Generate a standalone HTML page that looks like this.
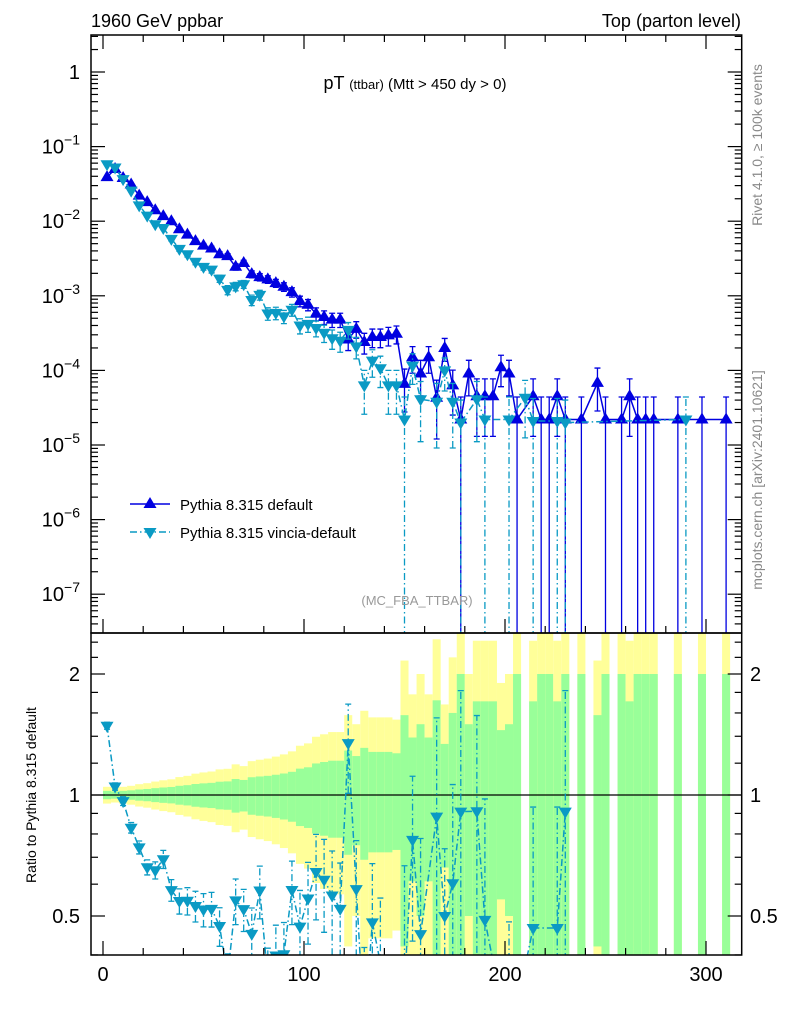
<!DOCTYPE html>
<html><head><meta charset="utf-8"><style>
html,body{margin:0;padding:0;background:#fff;width:786px;height:1024px;overflow:hidden}
svg{display:block;font-family:"Liberation Sans",sans-serif}
</style></head><body>
<svg id="chart" width="786" height="1024" viewBox="0 0 786 1024" xmlns="http://www.w3.org/2000/svg">
<defs>
<clipPath id="cpMain"><rect x="91" y="35" width="651" height="598"/></clipPath>
<clipPath id="cpRatio"><rect x="91" y="633" width="651" height="322"/></clipPath>
</defs>
<rect width="786" height="1024" fill="#fff"/>
<g id="bands" clip-path="url(#cpRatio)"></g>
<g id="marksMain" clip-path="url(#cpMain)"></g>
<g id="marksRatio" clip-path="url(#cpRatio)"></g>
<g id="axes"></g>
<text x="91" y="27" font-size="18">1960 GeV ppbar</text>
<text x="741" y="27" font-size="18" text-anchor="end">Top (parton level)</text>
<text x="415" y="89" text-anchor="middle"><tspan font-size="18">pT </tspan><tspan font-size="13">(ttbar)</tspan><tspan font-size="15"> (Mtt &gt; 450 dy &gt; 0)</tspan></text>
<text x="417" y="605" font-size="13" fill="#999" text-anchor="middle">(MC_FBA_TTBAR)</text>
<text transform="translate(762,145) rotate(-90)" font-size="14" fill="#888" text-anchor="middle">Rivet 4.1.0, ≥ 100k events</text>
<text transform="translate(762,480) rotate(-90)" font-size="14" fill="#888" text-anchor="middle">mcplots.cern.ch [arXiv:2401.10621]</text>
<text transform="translate(36,795) rotate(-90)" font-size="14" text-anchor="middle">Ratio to Pythia 8.315 default</text>
<g>
<g>
<line x1="130" y1="504" x2="170" y2="504" stroke="#0000e0" stroke-width="1.5"/>
<polygon points="150,497 156.5,508 143.5,508" fill="#0000e0"/>
<text x="180" y="510" font-size="15">Pythia 8.315 default</text>
</g>
<g>
<line x1="130" y1="532" x2="170" y2="532" stroke="#0a9ac4" stroke-width="1.5" stroke-dasharray="7,3,1.5,3"/>
<polygon points="150,539 156.5,528 143.5,528" fill="#0a9ac4"/>
<text x="180" y="538" font-size="15">Pythia 8.315 vincia-default</text>
</g>
</g>
</svg>
<script>
const binCenters = [2,6,10,14,18,22,26,30,34,38,42,46,50,54,58,62,66,70,74,78,82,86,90,94,98,102,106,110,114,118,122,126,130,134,138,142,146,150,154,158,162,166,170,174,178,182,186,190,194,198,202,206,210,214,218,222,226,230,234,238,242,246,250,254,258,262,266,270,274,278,282,286,290,294,298,302,306,310];
const binHalfWidth = 2;
const defaultValues = [3.9e-2,5.0e-2,3.8e-2,3.1e-2,2.2e-2,1.8e-2,1.4e-2,1.17e-2,1.0e-2,7.8e-3,6.6e-3,5.4e-3,4.7e-3,4.3e-3,3.6e-3,3.4e-3,2.45e-3,2.75e-3,1.95e-3,1.78e-3,1.66e-3,1.48e-3,1.32e-3,1.12e-3,8.5e-4,7.6e-4,5.75e-4,5.2e-4,4.8e-4,4.8e-4,2.6e-4,3.6e-4,2.4e-4,2.8e-4,2.8e-4,2.95e-4,3.1e-4,6.6e-5,1.5e-4,9.1e-5,1.5e-4,4.3e-5,2.0e-4,6.3e-5,2.2e-5,9.1e-5,4.5e-5,4.5e-5,4.5e-5,1.1e-4,9.1e-5,2.2e-5,0,4.5e-5,2.2e-5,2.2e-5,4.5e-5,2.2e-5,0,2.2e-5,0,6.8e-5,2.2e-5,0,2.2e-5,4.5e-5,2.2e-5,2.2e-5,2.2e-5,0,0,2.2e-5,0,0,2.2e-5,0,0,2.2e-5];
const defaultRelErr = [.024,.021,.024,.027,.032,.035,.040,.044,.047,.054,.058,.065,.069,.072,.079,.081,.096,.090,.107,.112,.116,.123,.131,.142,.163,.172,.198,.208,.217,.217,.29,.25,.31,.28,.28,.28,.27,.58,.39,.50,.39,.72,.34,.60,1,.50,.71,.71,.71,.45,.50,1,0,.71,1,1,.71,1,0,1,0,.58,1,0,1,.71,1,1,1,0,0,1,0,0,1,0,0,1];
const vinciaValues = [5.8e-2,5.25e-2,3.67e-2,2.57e-2,1.63e-2,1.19e-2,9.1e-3,8.1e-3,5.8e-3,4.25e-3,3.6e-3,2.86e-3,2.44e-3,2.24e-3,1.7e-3,1.2e-3,1.34e-3,1.43e-3,8.8e-4,1.03e-3,5.8e-4,5.9e-4,5.3e-4,6.5e-4,4.0e-4,4.2e-4,3.7e-4,3.2e-4,2.7e-4,2.5e-4,3.5e-4,2.1e-4,6.3e-5,1.35e-4,1.07e-4,6.3e-5,6.3e-5,2.2e-5,1.16e-4,4.1e-5,0,3.8e-5,1.0e-4,3.8e-5,2.0e-5,0,4.1e-5,2.2e-5,0,0,2.2e-5,0,4.3e-5,2.1e-5,0,0,2.1e-5,2.0e-5,0,0,0,0,0,0,0,0,0,0,0,0,0,0,2.2e-5,0,0,0,0,0];
const vinciaRelErr = [.020,.021,.025,.030,.037,.043,.049,.052,.062,.072,.078,.088,.095,.099,.11,.14,.13,.12,.16,.15,.19,.19,.20,.18,.23,.23,.24,.26,.29,.30,.25,.32,.59,.40,.45,.59,.59,1,.44,.73,0,.76,.47,.76,1,0,.73,1,0,0,1,0,.71,1,0,0,1,1,0,0,0,0,0,0,0,0,0,0,0,0,0,0,1,0,0,0,0,0];
const mainYTickExps = [0,-1,-2,-3,-4,-5,-6,-7];
const xTickLabels = [0,100,200,300];
const ratioTickLabels = [0.5,1,2];

const NS="http://www.w3.org/2000/svg";
const L=91,R=741.7,MT=35,MB=633,RT=633,RB=955;
function xs(g){return 103+2.01*g;}
function ym(v){return 72-74.6*Math.log10(v);}
function yr(r){return 795-121*Math.log2(r);}
function mk(tag,attrs,parent){const e=document.createElementNS(NS,tag);for(const k in attrs)e.setAttribute(k,attrs[k]);parent.appendChild(e);return e;}
const BLUE="#0000e0",CYAN="#0a9ac4";
const gB=document.getElementById('bands'),gM=document.getElementById('marksMain'),gR=document.getElementById('marksRatio'),gA=document.getElementById('axes');

binCenters.forEach((c,i)=>{
  const v=defaultValues[i],e=defaultRelErr[i];if(!(v>0))return;
  const x0=xs(c-binHalfWidth),x1=xs(c+binHalfWidth);
  const ylo=(1-2*e)>0?yr(1-2*e):RB+5, yhi=yr(1+2*e);
  const y=mk('rect',{x:x0,y:yhi,width:x1-x0,height:ylo-yhi,fill:"#ffff99"},gB);
  
  
  const glo=(1-e)>0?yr(1-e):RB+5, ghi=yr(1+e);
  const g=mk('rect',{x:x0,y:ghi,width:x1-x0,height:glo-ghi,fill:"#99ff99"},gB);
  
  
});
const ref=mk('line',{x1:L,x2:R,y1:yr(1),y2:yr(1),stroke:"#000","stroke-width":1.2},gB);



function tri(p,x,y,up,col){
  const s=6.5;
  const pts=up?`${x},${y-7} ${x+s},${y+4} ${x-s},${y+4}`:`${x},${y+7} ${x+s},${y-4} ${x-s},${y-4}`;
  return mk('polygon',{points:pts,fill:col},p);
}
function series(parent,vals,errs,yfn,bottom,col,up,dash,name){
  const pts=[];
  vals.forEach((v,i)=>{if(v>0)pts.push([xs(binCenters[i]),yfn(v),v,errs[i]*v]);});
  const line=mk('polyline',{points:pts.map(p=>p[0]+','+p[1]).join(' '),fill:"none",stroke:col,"stroke-width":1.5},parent);
  if(dash)line.setAttribute('stroke-dasharray',dash);
  
  
  pts.forEach(p=>{
    const hi=yfn(p[2]+p[3]), lo=(p[2]-p[3])>0?yfn(p[2]-p[3]):bottom+5;
    const eb=mk('path',{d:`M${p[0]},${lo}V${hi}M${p[0]-3},${hi}H${p[0]+3}M${p[0]-3},${lo}H${p[0]+3}`,stroke:col,"stroke-width":1.3,fill:"none"},parent);
    if(dash)eb.setAttribute('stroke-dasharray',dash);
    
    
    const m=tri(parent,p[0],p[1],up,col);
    
    
  });
}
series(gM,defaultValues,defaultRelErr,ym,MB,BLUE,true,null,'default');
series(gM,vinciaValues,vinciaRelErr,ym,MB,CYAN,false,"7,3,1.5,3",'vincia');
const rv=[],re=[];
binCenters.forEach((c,i)=>{const b=defaultValues[i],v=vinciaValues[i];
  if(b>0&&v>0){rv.push(v/b);re.push(vinciaRelErr[i]);}else{rv.push(0);re.push(0);}});
series(gR,rv,re,yr,RB,CYAN,false,"7,3,1.5,3",'ratio-vincia');

[[MT,MB],[RT,RB]].forEach(([t,b],k)=>{
  const f=mk('rect',{x:L,y:t,width:R-L,height:b-t,fill:"none",stroke:"#000","stroke-width":1.5},gA);
  
  
});
for(let g=0;g<=318;g+=20){
  const x=xs(g),maj=g%100===0;
  [[MB,-1],[RB,-1],[MT,1]].forEach(([y,d])=>{
    mk('line',{x1:x,x2:x,y1:y,y2:y+d*(maj?14:7),stroke:"#000","stroke-width":1.2},gA);
  });
}
xTickLabels.forEach(t=>{
  const tx=mk('text',{x:xs(t),y:981,"font-size":20,"text-anchor":"middle"},gA);
  tx.textContent=t;
  
  
});
for(let e=-8;e<=0;e++){
  for(let m=1;m<10;m++){
    const y=ym(m*Math.pow(10,e));if(y<MT||y>MB)continue;
    const len=m===1?14:7;
    mk('line',{x1:L,x2:L+len,y1:y,y2:y,stroke:"#000","stroke-width":1.2},gA);
    mk('line',{x1:R,x2:R-len,y1:y,y2:y,stroke:"#000","stroke-width":1.2},gA);
  }
}
mainYTickExps.forEach(e=>{
  const y=ym(Math.pow(10,e));
  const t=mk('text',{x:80,y:y+7,"font-size":20,"text-anchor":"end"},gA);
  
  
  if(e===0){t.textContent='1';}
  else{t.textContent='10';const s=mk('tspan',{dy:-9,"font-size":14},t);s.textContent=String(e).replace('-','−');}
});
[0.4,0.5,0.6,0.7,0.8,0.9,1,1.2,1.4,1.6,1.8,2,2.2,2.4].forEach(r=>{
  const y=yr(r);if(y<RT||y>RB)return;
  const maj=(r===0.5||r===1||r===2);const len=maj?14:7;
  mk('line',{x1:L,x2:L+len,y1:y,y2:y,stroke:"#000","stroke-width":1.2},gA);
  mk('line',{x1:R,x2:R-len,y1:y,y2:y,stroke:"#000","stroke-width":1.2},gA);
});
ratioTickLabels.forEach(r=>{
  [[80,'end'],[750,'start']].forEach(([x,a])=>{
    const t=mk('text',{x:x,y:yr(r)+7,"font-size":20,"text-anchor":a},gA);
    t.textContent=r;
    
    
  });
});
</script>
</body></html>
